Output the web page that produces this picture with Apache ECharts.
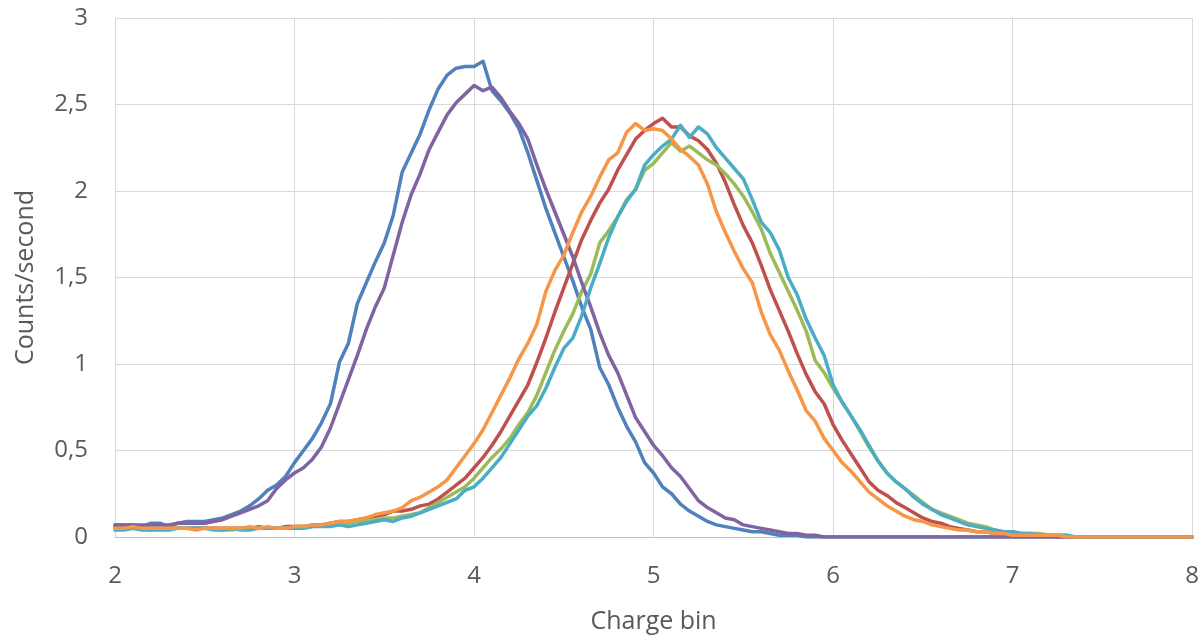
<!DOCTYPE html>
<html>
<head>
<meta charset="utf-8">
<script src="https://cdn.jsdelivr.net/npm/echarts@6/dist/echarts.min.js"></script>
<style>
html,body{margin:0;padding:0;background:#fff;}
#chart{width:1202px;height:639px;}
</style>
</head>
<body>
<div id="chart"></div>
<script>
const chargeBins = [
2.00,2.05,2.10,2.15,2.20,2.25,2.30,2.35,2.40,2.45,
2.50,2.55,2.60,2.65,2.70,2.75,2.80,2.85,2.90,2.95,
3.00,3.05,3.10,3.15,3.20,3.25,3.30,3.35,3.40,3.45,
3.50,3.55,3.60,3.65,3.70,3.75,3.80,3.85,3.90,3.95,
4.00,4.05,4.10,4.15,4.20,4.25,4.30,4.35,4.40,4.45,
4.50,4.55,4.60,4.65,4.70,4.75,4.80,4.85,4.90,4.95,
5.00,5.05,5.10,5.15,5.20,5.25,5.30,5.35,5.40,5.45,
5.50,5.55,5.60,5.65,5.70,5.75,5.80,5.85,5.90,5.95,
6.00,6.05,6.10,6.15,6.20,6.25,6.30,6.35,6.40,6.45,
6.50,6.55,6.60,6.65,6.70,6.75,6.80,6.85,6.90,6.95,
7.00,7.05,7.10,7.15,7.20,7.25,7.30,7.35,7.40,7.45,
7.50,7.55,7.60,7.65,7.70,7.75,7.80,7.85,7.90,7.95,
8.00];

const blueSeries = [
0.07,0.07,0.07,0.06,0.08,0.08,0.06,0.08,0.09,0.09,
0.09,0.10,0.11,0.13,0.15,0.18,0.22,0.27,0.30,0.35,
0.43,0.50,0.57,0.66,0.77,1.01,1.12,1.35,1.47,1.59,
1.70,1.86,2.11,2.22,2.33,2.47,2.59,2.67,2.71,2.72,
2.72,2.75,2.58,2.52,2.45,2.36,2.22,2.06,1.90,1.76,
1.62,1.48,1.33,1.20,0.98,0.88,0.75,0.64,0.55,0.43,
0.37,0.29,0.25,0.19,0.15,0.12,0.09,0.07,0.06,0.05,
0.04,0.03,0.03,0.02,0.01,0.01,0.01,0,0,0,
0,0,0,0,0,0,0,0,0,0,
0,0,0,0,0,0,0,0,0,0,
0,0,0,0,0,0,0,0,0,0,
0,0,0,0,0,0,0,0,0,0,
0];

const purpleSeries = [
0.07,0.07,0.07,0.07,0.07,0.07,0.07,0.08,0.08,0.08,
0.08,0.09,0.10,0.12,0.14,0.16,0.18,0.21,0.28,0.33,
0.37,0.40,0.45,0.52,0.63,0.77,0.91,1.05,1.20,1.33,
1.44,1.63,1.82,1.98,2.10,2.24,2.34,2.44,2.51,2.56,
2.61,2.58,2.60,2.54,2.46,2.39,2.30,2.15,2.01,1.88,
1.75,1.62,1.47,1.33,1.18,1.05,0.95,0.82,0.69,0.61,
0.53,0.47,0.40,0.35,0.28,0.21,0.17,0.14,0.11,0.10,
0.07,0.06,0.05,0.04,0.03,0.02,0.02,0.01,0.01,0,
0,0,0,0,0,0,0,0,0,0,
0,0,0,0,0,0,0,0,0,0,
0,0,0,0,0,0,0,0,0,0,
0,0,0,0,0,0,0,0,0,0,
0];

const orangeSeries = [
0.05,0.05,0.06,0.05,0.05,0.05,0.05,0.05,0.05,0.04,
0.05,0.05,0.05,0.05,0.05,0.06,0.05,0.06,0.05,0.05,
0.06,0.06,0.07,0.07,0.08,0.09,0.09,0.10,0.11,0.13,
0.14,0.15,0.17,0.21,0.23,0.26,0.29,0.33,0.40,0.47,
0.54,0.62,0.72,0.82,0.92,1.03,1.12,1.23,1.42,1.54,
1.63,1.76,1.88,1.97,2.08,2.18,2.22,2.34,2.39,2.35,
2.36,2.35,2.30,2.24,2.20,2.15,2.04,1.88,1.76,1.65,
1.55,1.47,1.30,1.17,1.08,0.96,0.85,0.73,0.67,0.57,
0.50,0.43,0.38,0.32,0.26,0.22,0.18,0.15,0.12,0.10,
0.09,0.07,0.06,0.05,0.04,0.04,0.03,0.03,0.02,0.02,
0.01,0.01,0.01,0.01,0.01,0.01,0,0,0,0,
0,0,0,0,0,0,0,0,0,0,
0];

const redSeries = [
0.06,0.06,0.05,0.06,0.05,0.05,0.05,0.05,0.05,0.05,
0.05,0.05,0.05,0.05,0.05,0.05,0.06,0.05,0.05,0.06,
0.06,0.06,0.07,0.07,0.08,0.09,0.09,0.10,0.11,0.12,
0.13,0.15,0.15,0.16,0.18,0.19,0.22,0.26,0.30,0.34,
0.40,0.46,0.53,0.61,0.70,0.79,0.88,1.01,1.15,1.30,
1.44,1.58,1.72,1.83,1.93,2.01,2.12,2.21,2.30,2.35,
2.39,2.42,2.37,2.37,2.32,2.29,2.24,2.16,2.05,1.92,
1.80,1.70,1.57,1.43,1.31,1.19,1.06,0.94,0.84,0.77,
0.65,0.56,0.48,0.40,0.32,0.27,0.24,0.20,0.17,0.14,
0.11,0.09,0.08,0.06,0.05,0.04,0.03,0.03,0.02,0.02,
0.01,0.01,0.01,0.01,0.01,0,0,0,0,0,
0,0,0,0,0,0,0,0,0,0,
0];

const greenSeries = [
0.05,0.05,0.05,0.05,0.04,0.05,0.05,0.05,0.05,0.05,
0.05,0.05,0.04,0.04,0.05,0.05,0.05,0.05,0.05,0.05,
0.06,0.06,0.06,0.07,0.07,0.07,0.08,0.09,0.09,0.10,
0.11,0.11,0.12,0.13,0.14,0.17,0.20,0.23,0.26,0.29,
0.34,0.40,0.46,0.51,0.57,0.65,0.72,0.82,0.95,1.08,
1.19,1.29,1.42,1.52,1.70,1.77,1.85,1.95,2.01,2.12,
2.16,2.22,2.28,2.23,2.26,2.22,2.18,2.15,2.10,2.04,
1.97,1.88,1.78,1.64,1.53,1.42,1.31,1.19,1.02,0.95,
0.86,0.78,0.70,0.61,0.52,0.44,0.37,0.32,0.28,0.24,
0.20,0.16,0.14,0.12,0.10,0.08,0.07,0.06,0.04,0.03,
0.03,0.02,0.02,0.02,0.01,0.01,0.01,0,0,0,
0,0,0,0,0,0,0,0,0,0,
0];

const tealSeries = [
0.04,0.04,0.05,0.04,0.04,0.04,0.04,0.05,0.05,0.05,
0.05,0.04,0.04,0.05,0.04,0.04,0.05,0.05,0.05,0.05,
0.05,0.05,0.06,0.06,0.06,0.07,0.06,0.07,0.08,0.09,
0.10,0.09,0.11,0.12,0.14,0.16,0.18,0.20,0.22,0.27,
0.29,0.34,0.40,0.46,0.54,0.62,0.70,0.76,0.86,0.98,
1.09,1.15,1.28,1.44,1.58,1.73,1.85,1.94,2.01,2.15,
2.21,2.26,2.30,2.38,2.31,2.37,2.33,2.25,2.19,2.13,
2.07,1.95,1.82,1.76,1.66,1.50,1.40,1.26,1.15,1.05,
0.88,0.78,0.70,0.62,0.53,0.44,0.37,0.32,0.28,0.23,
0.19,0.16,0.13,0.11,0.09,0.07,0.06,0.05,0.04,0.03,
0.03,0.02,0.02,0.01,0.01,0.01,0.01,0,0,0,
0,0,0,0,0,0,0,0,0,0,
0];

const seriesList = [
  {name: 'Series 1', values: blueSeries,   color: '#4F81BD'},
  {name: 'Series 2', values: redSeries,    color: '#C0504D'},
  {name: 'Series 3', values: greenSeries,  color: '#9BBB59'},
  {name: 'Series 4', values: purpleSeries, color: '#8064A2'},
  {name: 'Series 5', values: tealSeries,   color: '#4BACC6'},
  {name: 'Series 6', values: orangeSeries, color: '#F79646'}
];

const FONT = '"Open Sans", "DejaVu Sans", sans-serif';
const chart = echarts.init(document.getElementById('chart'), null, {renderer: 'canvas'});
chart.setOption({
  animation: false,
  backgroundColor: '#ffffff',
  grid: {left: 115, right: 6, top: 18, bottom: 100, containLabel: false},
  xAxis: {
    type: 'value', min: 2, max: 8, interval: 1,
    name: 'Charge bin', nameLocation: 'middle', nameGap: 72,
    nameTextStyle: {fontFamily: FONT, fontSize: 25, color: '#595959'},
    axisLine: {show: true, lineStyle: {color: '#bfbfbf', width: 1}},
    axisTick: {show: false},
    axisLabel: {fontFamily: FONT, fontSize: 24, color: '#595959', margin: 27},
    splitLine: {show: true, lineStyle: {color: '#d9d9d9', width: 1}}
  },
  yAxis: {
    type: 'value', min: 0, max: 3, interval: 0.5,
    name: 'Counts/second', nameLocation: 'middle', nameGap: 77, nameRotate: 90,
    nameTextStyle: {fontFamily: FONT, fontSize: 25, color: '#595959'},
    axisLine: {show: true, lineStyle: {color: '#d9d9d9', width: 1}},
    axisTick: {show: false},
    axisLabel: {fontFamily: FONT, fontSize: 24, color: '#595959', margin: 27,
      formatter: v => String(v).replace('.', ',')},
    splitLine: {show: true, lineStyle: {color: '#d9d9d9', width: 1}}
  },
  series: seriesList.map(s => ({
    name: s.name,
    type: 'line',
    showSymbol: false,
    symbol: 'none',
    smooth: false,
    clip: true,
    lineStyle: {color: s.color, width: 3.5, join: 'round', cap: 'round'},
    itemStyle: {color: s.color},
    data: chargeBins.map((x, i) => [x, s.values[i]])
  }))
});
</script>
</body>
</html>
